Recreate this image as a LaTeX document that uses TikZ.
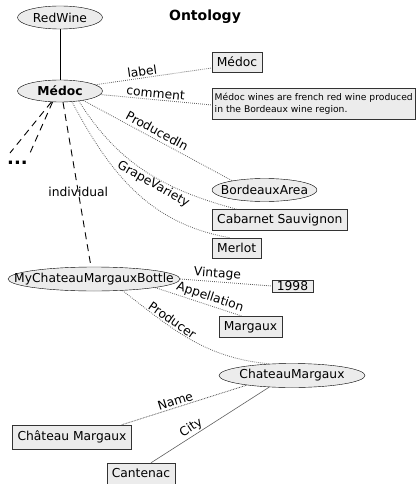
\documentclass[tikz,border=0pt]{standalone}
\usepackage{fontspec}
\setmainfont{DejaVu Sans}
\usetikzlibrary{shapes.geometric}
\definecolor{nodegray}{RGB}{236,236,236}
\definecolor{linegray}{RGB}{95,95,95}
% ellipse size is set by minimum width, not by the text
\newcommand{\flatname}[1]{\makebox[0pt]{#1}}

\begin{document}
\begin{tikzpicture}[
    x=1pt, y=-1pt,
    every node/.style={font=\fontsize{12.3}{14.5}\selectfont},
    classnode/.style={ellipse, draw=black, fill=nodegray, inner sep=0pt, minimum height=23pt},
    valuebox/.style={rectangle, draw=black!80, fill=nodegray, inner xsep=5pt, inner ysep=0pt, minimum height=21pt},
    prop/.style={draw=linegray, line width=0.8pt, dash pattern=on 0.8pt off 1.2pt},
    inst/.style={draw=black, line width=0.9pt, dash pattern=on 7pt off 5pt},
    proplabel/.style={sloped, above, inner sep=1.5pt}
]
    \useasboundingbox (0,0) rectangle (417,484);

    % Classes
    \node[classnode, minimum width=85pt] (redwine) at (60,17.5) {\flatname{RedWine}};
    \node[font=\fontsize{14}{16}\selectfont\bfseries] (title) at (205,17) {Ontology};
    \node[classnode, minimum width=85pt, minimum height=22pt] (medoc) at (60,91) {\flatname{\bfseries Médoc}};
    \draw[line width=0.8pt] (redwine) -- (medoc);

    % Values of Médoc
    \node[valuebox, minimum width=50pt, minimum height=20pt] (medoclabel) at (237,62) {Médoc};
    \node[rectangle, draw=black!80, fill=nodegray, anchor=west, align=left, inner xsep=2.5pt, inner ysep=5pt,
        font=\fontsize{9.2}{12}\selectfont] (comment) at (212,103.5) {Médoc wines are french red wine produced\\in the Bordeaux wine region.};
    \node[classnode, minimum width=105pt] (bordeaux) at (264.5,190) {\flatname{BordeauxArea}};
    \node[valuebox, anchor=west] (cabernet) at (212,220) {Cabarnet Sauvignon};
    \node[valuebox, anchor=west, minimum height=20pt] (merlot) at (212,248) {Merlot};

    \draw[prop] (medoc.10) -- node[proplabel, pos=0.41] {label} ([yshift=-6pt]medoclabel.west);
    \draw[prop] (medoc.-5) -- node[proplabel, pos=0.49] {comment} ([yshift=-1.5pt]comment.west);
    \draw[prop] (medoc.-22) -- node[proplabel, pos=0.47, inner sep=3pt] {ProducedIn} (bordeaux.164);
    \draw[prop] (medoc.-28) to[out=-58, in=165] node[proplabel, below, pos=0.57, inner sep=0.5pt] {GrapeVariety} ([xshift=25pt]cabernet.north west);
    \draw[prop] (medoc.-42) to[out=-62, in=170] ([xshift=18pt]merlot.north west);

    % Individuals
    \node[font=\fontsize{18}{18}\selectfont\bfseries] (more) at (17.5,163) {...};
    \coordinate (dl) at (10,153);
    \coordinate (dr) at (30,153);
    \foreach \a/\c in {232/dl, 236/dr}
        \draw[inst] (medoc.\a) -- (\c);

    \node[classnode, minimum width=172pt, minimum height=24pt] (bottle) at (94,279) {\flatname{MyChateauMargauxBottle}};
    \draw[inst] (medoc.-75) -- node[pos=0.545, inner sep=0pt] {individual} ([xshift=-3pt]bottle.north);

    % Values of the bottle
    \node[valuebox, minimum height=12pt, inner ysep=1pt] (vintage) at (292.5,286) {1998};
    \node[valuebox] (margaux) at (250.5,327) {Margaux};
    \node[classnode, minimum width=146pt, minimum height=24pt] (chateau) at (292,375.5) {\flatname{ChateauMargaux}};

    \draw[prop] (bottle.east) -- node[proplabel, pos=0.4] {Vintage} (vintage.west);
    \draw[prop] (bottle.-8) -- node[proplabel, pos=0.6] {Appellation} ([xshift=-8pt]margaux.north);
    \draw[prop] (bottle.-22) to[out=-38, in=175] node[proplabel, pos=0.33] {Producer} (chateau.152);

    % Values of the chateau
    \node[valuebox, minimum height=24pt] (name) at (72,437) {Château Margaux};
    \node[valuebox] (cantenac) at (141,473.5) {Cantenac};
    \draw[prop, dash pattern=on 0.8pt off 0.8pt] ([xshift=-10pt]name.north east) -- node[proplabel, pos=0.444] {Name} (chateau.192);
    \draw[draw=linegray, line width=0.6pt] ([xshift=10pt]cantenac.north) -- node[proplabel, pos=0.375] {City} (chateau.207);

\end{tikzpicture}
\end{document}
